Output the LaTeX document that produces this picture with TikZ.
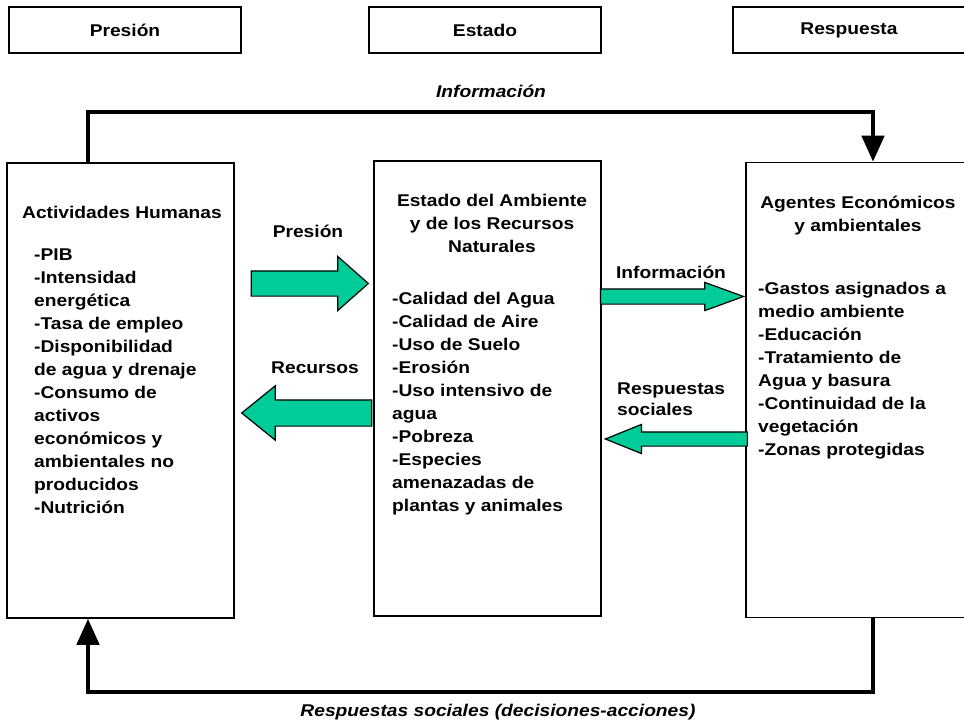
\documentclass[tikz,border=0pt]{standalone}
\usepackage{fontspec}
\setmainfont[FakeStretch=1.13]{Liberation Sans}
\usepackage{xcolor}
\usepackage{tikz}
\usetikzlibrary{shapes,arrows.meta}
\definecolor{flowgreen}{HTML}{00CC99}

\begin{document}
\begin{tikzpicture}[
    x=1pt, y=-1pt,
    every node/.style={font=\bfseries\fontsize{17}{23}\selectfont, inner sep=0pt},
    topbox/.style={draw, line width=1.5pt, minimum width=232pt, minimum height=46pt},
    bigbox/.style={draw, line width=1.5pt, minimum width=227pt, minimum height=455pt},
    greenarrow/.style={single arrow, draw, fill=flowgreen, line width=1.2pt, single arrow head indent=0pt, anchor=tip},
    loopline/.style={line width=4.5pt, -{Triangle[length=26pt,width=22pt]}},
    note/.style={font=\bfseries\itshape\fontsize{17}{23}\selectfont}
]
\useasboundingbox (0,0) rectangle (964,722);

% top row
\node[topbox] (pres) at (125,30) {Presión};
\node[topbox] (est) at (485,30) {Estado};
\node[topbox] (resp) at (849,30) {Respuesta};

% main boxes (texts anchored at the baseline of their last line)
\node[bigbox] (act) at (120.5,390.5) {};
\node[bigbox] (amb) at (487.5,388.5) {};
\node[bigbox] (agt) at (859.5,390) {};

\node[anchor=base] (actTitle) at (122,219) {Actividades Humanas};
\node[anchor=base west, align=left] (actList) at (34,513) {-PIB\\-Intensidad\\energética\\-Tasa de empleo\\-Disponibilidad\\de agua y drenaje\\-Consumo de\\activos\\económicos y\\ambientales no\\producidos\\-Nutrición};

\node[anchor=base, align=center] (ambTitle) at (492,252) {Estado del Ambiente\\y de los Recursos\\Naturales};
\node[anchor=base west, align=left] (ambList) at (392,511) {-Calidad del Agua\\-Calidad de Aire\\-Uso de Suelo\\-Erosión\\-Uso intensivo de\\agua\\-Pobreza\\-Especies\\amenazadas de\\plantas y animales};

\node[anchor=base, align=center] (agtTitle) at (858,232) {Agentes Económicos\\y ambientales};
\node[anchor=base west, align=left] (agtList) at (758,455) {-Gastos asignados a\\medio ambiente\\-Educación\\-Tratamiento de\\Agua y basura\\-Continuidad de la\\vegetación\\-Zonas protegidas};

% green arrows between the boxes
\node[greenarrow, minimum height=117pt, inner ysep=12pt, single arrow head extend=14.5pt, single arrow tip angle=83] (presArrow) at ([xshift=-4pt]amb.west |- 0,283.5) {};
\node[greenarrow, minimum height=130pt, inner ysep=12.5pt, single arrow head extend=14pt, single arrow tip angle=78, shape border rotate=180] (recArrow) at ([xshift=6pt]act.east |- 0,413) {};
\node[greenarrow, minimum height=143pt, inner ysep=7pt, single arrow head extend=6.5pt, single arrow tip angle=40] (infArrow) at (agt.west |- 0,296.5) {};
\node[greenarrow, minimum height=142pt, inner ysep=6.5pt, single arrow head extend=7.5pt, single arrow tip angle=44, shape border rotate=180] (rsArrow) at ([xshift=2pt]amb.east |- 0,439) {};

\node[anchor=base] (presLabel) at (308,238) {Presión};
\node[anchor=base] (recLabel) at (315,373) {Recursos};
\node[anchor=base] (infLabel) at (671,278) {Información};
\node[anchor=base west, align=left, font=\bfseries\fontsize{17}{21}\selectfont] (rsLabel) at (617,415) {Respuestas\\sociales};

% feedback loops
\coordinate (topL) at (88,112);
\coordinate (topR) at (873,112);
\coordinate (botL) at (88,692);
\coordinate (botR) at (873,692);
\draw[loopline] (act.north -| topL) -- (topL) -- (topR) -- (agt.north -| topR);
\draw[loopline] (agt.south -| botR) -- (botR) -- (botL) -- (act.south -| botL);

\node[note, anchor=base] (infNote) at (491,98) {Información};
\node[note, anchor=base] (rsNote) at (498,716) {Respuestas sociales (decisiones-acciones)};
\end{tikzpicture}
\end{document}
